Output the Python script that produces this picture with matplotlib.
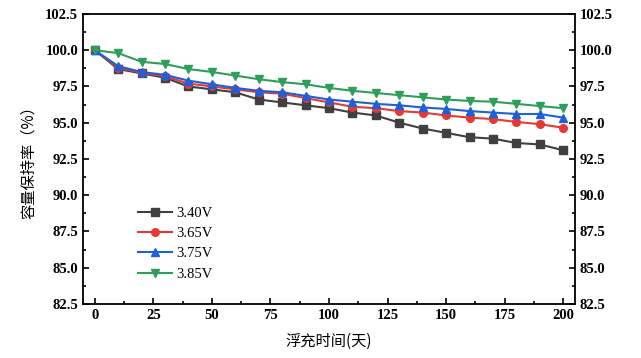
import numpy as np
import matplotlib.pyplot as plt
from matplotlib.ticker import MultipleLocator

# float charge time (days)
days = list(range(0, 201, 10))

v340 = [100, 98.7, 98.4, 98.1, 97.5, 97.3, 97.1, 96.6, 96.4, 96.2, 96.0,
        95.7, 95.5, 95.0, 94.6, 94.3, 94.0, 93.9, 93.6, 93.5, 93.1]
v365 = [100, 98.8, 98.45, 98.2, 97.7, 97.5, 97.3, 97.1, 97.0, 96.7, 96.4,
        96.1, 96.0, 95.8, 95.7, 95.5, 95.35, 95.25, 95.05, 94.9, 94.65]
v375 = [100, 98.9, 98.5, 98.3, 97.9, 97.65, 97.4, 97.2, 97.1, 96.85, 96.6,
        96.45, 96.3, 96.2, 96.05, 95.95, 95.8, 95.7, 95.6, 95.6, 95.35]
v385 = [100, 99.8, 99.2, 99.05, 98.7, 98.5, 98.25, 98.0, 97.8, 97.65, 97.4,
        97.2, 97.05, 96.9, 96.75, 96.6, 96.5, 96.45, 96.3, 96.15, 96.0]

labels = ['3.40V', '3.65V', '3.75V', '3.85V']
series = [v340, v365, v375, v385]
colors = ['#404040', '#e53935', '#1f5fd8', '#2e9e5b']
markers = ['s', 'o', '^', 'v']

cjk = ['Noto Sans CJK SC', 'DejaVu Sans']
num_font = 'Liberation Serif'

fig = plt.figure(figsize=(6.41, 3.58), dpi=100)
ax = fig.add_axes([0.1295, 0.151, 0.7675, 0.81])

for y, lab, c, m in zip(series, labels, colors, markers):
    ax.plot(days, y, color=c, marker=m, markersize=5.5, linewidth=1.5, label=lab)

ax.set_xlim(-5, 205)
ax.set_ylim(82.5, 102.5)
ax.xaxis.set_major_locator(MultipleLocator(25))
ax.xaxis.set_minor_locator(MultipleLocator(12.5))
ax.yaxis.set_major_locator(MultipleLocator(2.5))
ax.yaxis.set_minor_locator(MultipleLocator(1.25))
ax.yaxis.set_major_formatter(plt.FormatStrFormatter('%.1f'))

ax.tick_params(which='both', direction='in', top=False, right=True,
               labelright=True, width=1.2)
ax.tick_params(which='major', length=4.5)
ax.tick_params(which='minor', length=2.5)
for lbl in ax.get_xticklabels() + ax.get_yticklabels():
    lbl.set_fontfamily(num_font)
    lbl.set_fontweight('bold')
    lbl.set_fontsize(10.5)
for t in ax.yaxis.get_major_ticks():
    t.label2.set_fontfamily(num_font)
    t.label2.set_fontweight('bold')
    t.label2.set_fontsize(10.5)
for sp in ax.spines.values():
    sp.set_linewidth(1.3)

ax.set_xlabel('浮充时间(天)', family=cjk, fontsize=11, labelpad=8)
ax.set_ylabel('容量保持率（%）', family=cjk, fontsize=11, labelpad=6)

ax.legend(loc='upper left', bbox_to_anchor=(0.1, 0.355), frameon=False,
          prop={'family': num_font, 'size': 10.5}, handlelength=2.3,
          handletextpad=0.3, labelspacing=0.48, borderaxespad=0)

fig.savefig('out.png', dpi=100)
